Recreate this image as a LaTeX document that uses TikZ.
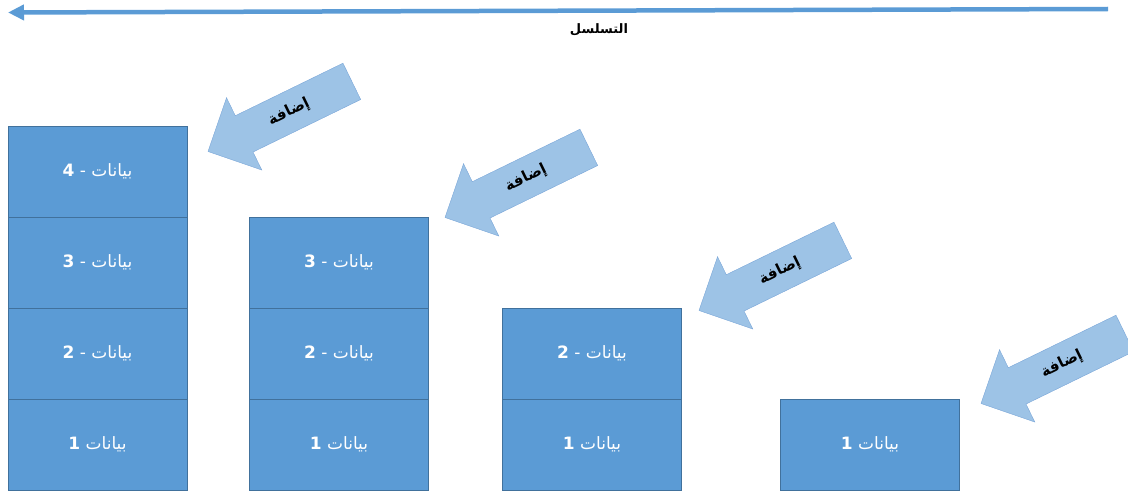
\documentclass[tikz,border=0pt]{standalone}
\usepackage{fontspec}
\usetikzlibrary{shapes.arrows,arrows.meta}
\TeXXeTstate=1
\newfontfamily\arabicfont[Script=Arabic]{DejaVu Sans}
\definecolor{boxblue}{HTML}{5B9BD5}
\definecolor{boxline}{HTML}{41719C}
\definecolor{addfill}{HTML}{9DC3E6}
\definecolor{addline}{HTML}{7AA6D8}

\begin{document}
\begin{tikzpicture}[x=1pt,y=-1pt,
    databox/.style={draw=boxline, fill=boxblue, minimum width=179pt, minimum height=91pt,
        inner sep=0pt, text=white, font=\fontsize{17}{19}\selectfont\arabicfont},
    addarrow/.style={single arrow, draw=addline, fill=addfill, minimum height=160pt,
        minimum width=80pt, single arrow head extend=20pt, inner xsep=0pt, inner ysep=12pt,
        text height=12pt, text depth=4pt,
        rotate=26, shape border rotate=180, text=black,
        font=\fontsize{15}{17}\selectfont\arabicfont\bfseries},
    seqline/.style={boxblue, line width=4.5pt, -{Triangle[length=16pt,width=15pt]}}]
        \useasboundingbox (0,0) rectangle (1128,495);
        % sequence arrow
        \coordinate (seqstart) at (1108,9);
        \coordinate (seqend) at (8,12.5);
        \draw[seqline] (seqstart) -- (seqend);
        \node[font=\fontsize{13}{15}\selectfont\arabicfont\bfseries] (seqlabel) at (599,30) {\beginR التسلسل\endR};
        % stack with four blocks
        \node[databox] (st4b1) at (97.5,444.5) {\beginR بيانات \textbf{1}\endR};
        \node[databox] (st4b2) at (97.5,353.5) {\beginR بيانات - \textbf{2}\endR};
        \node[databox] (st4b3) at (97.5,262.5) {\beginR بيانات - \textbf{3}\endR};
        \node[databox] (st4b4) at (97.5,171.5) {\beginR بيانات - \textbf{4}\endR};
        % stack with three blocks
        \node[databox] (st3b1) at (339,444.5) {\beginR بيانات \textbf{1}\endR};
        \node[databox] (st3b2) at (339,353.5) {\beginR بيانات - \textbf{2}\endR};
        \node[databox] (st3b3) at (339,262.5) {\beginR بيانات - \textbf{3}\endR};
        % stack with two blocks
        \node[databox] (st2b1) at (592,444.5) {\beginR بيانات \textbf{1}\endR};
        \node[databox] (st2b2) at (592,353.5) {\beginR بيانات - \textbf{2}\endR};
        % stack with one block
        \node[databox] (st1b1) at (870,444.5) {\beginR بيانات \textbf{1}\endR};
        % add arrows
        \node[addarrow] (add4) at (289,112) {\beginR إضافة\endR};
        \node[addarrow] (add3) at (526,178) {\beginR إضافة\endR};
        \node[addarrow] (add2) at (780,271) {\beginR إضافة\endR};
        \node[addarrow] (add1) at (1062,364) {\beginR إضافة\endR};
\end{tikzpicture}
\end{document}
